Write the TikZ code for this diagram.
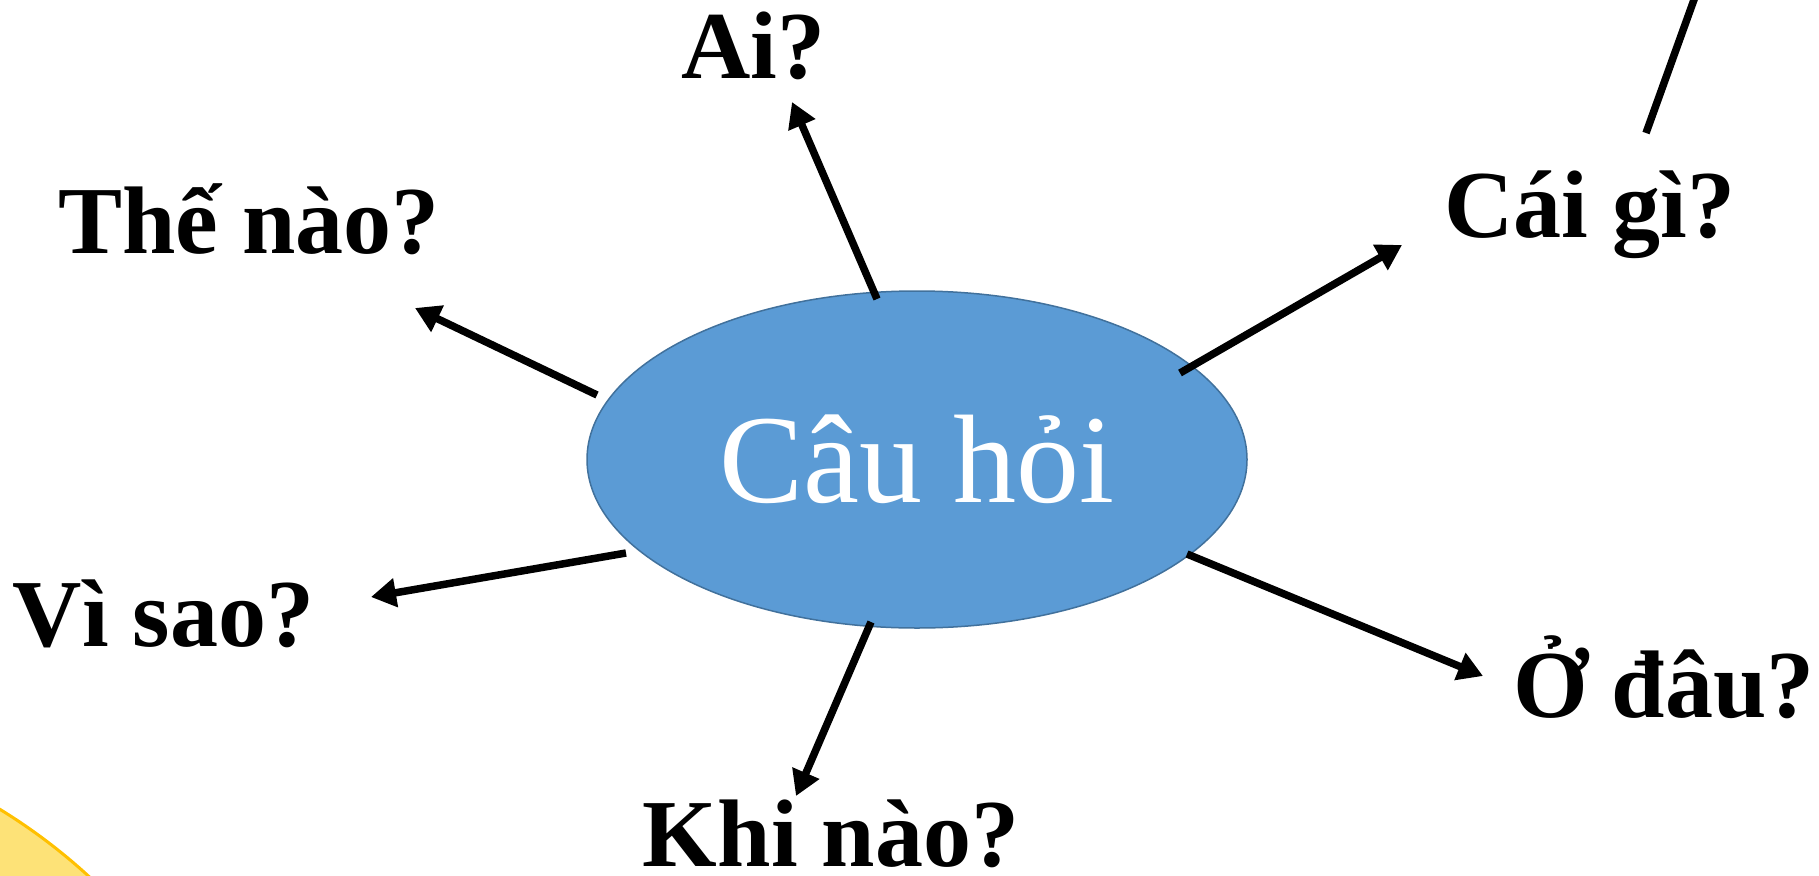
\documentclass[tikz,border=0pt]{standalone}
\usepackage{fontspec}
\setmainfont{Liberation Serif}
\usetikzlibrary{shapes.geometric,arrows.meta,calc}
\definecolor{ellfill}{HTML}{5B9BD5}
\definecolor{elldraw}{HTML}{41719C}
\definecolor{sunfill}{HTML}{FDE277}
\definecolor{sundraw}{HTML}{FFC000}
\tikzset{
  lbl/.style={anchor=base, font=\fontsize{96}{110}\selectfont\bfseries, inner sep=0pt},
  conn/.style={line width=7.5pt, -{Triangle[length=25pt,width=28pt]}},
}
\begin{document}
\begin{tikzpicture}[x=1pt,y=-1pt]
\useasboundingbox (0,0) rectangle (1819,875);
\clip (0,0) rectangle (1819,875);
% decorative yellow circle
\draw[fill=sunfill, draw=sundraw, line width=3pt] (-300,1300) circle[radius=575];
% top-right line
\coordinate (ls) at (1646,133);
\coordinate (le) at (1700,-17);
\draw[line width=7.5pt] (ls) -- (le);
% central ellipse
\node[ellipse, fill=ellfill, draw=elldraw, line width=1.5pt, minimum width=660pt, minimum height=337pt, inner sep=0pt, text=white, font=\fontsize{126}{140}\selectfont] (e) at (917,459.5) {Câu hỏi};
% labels
\node[lbl] (ai) at (753,78) {Ai?};
\node[lbl] (thenao) at (249,253) {Thế nào?};
\node[lbl] (caigi) at (1590,237) {Cái gì?};
\node[lbl] (visao) at (163.5,646) {Vì sao?};
\node[lbl] (odau) at (1664,717) {Ở đâu?};
\node[lbl] (khinao) at (831,866) {Khi nào?};
% arrow tips
\coordinate (tai) at (792,102);
\coordinate (tthenao) at (415,308);
\coordinate (tcaigi) at (1402,245);
\coordinate (tvisao) at (371,597);
\coordinate (tkhinao) at (796,796);
\coordinate (todau) at (1483,676);
% connectors
\draw[conn] ($(e.center)+(-40,-160.5)$) -- (tai);
\draw[conn] ($(e.center)+(-320,-64.5)$) -- (tthenao);
\draw[conn] ($(e.center)+(263,-86.5)$) -- (tcaigi);
\draw[conn] ($(e.center)+(-291,93.5)$) -- (tvisao);
\draw[conn] ($(e.center)+(-46,162.5)$) -- (tkhinao);
\draw[conn] ($(e.center)+(270,94.5)$) -- (todau);
\end{tikzpicture}
\end{document}
